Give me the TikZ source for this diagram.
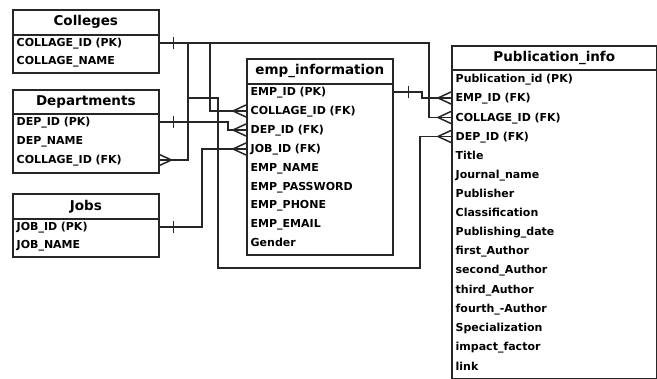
\documentclass[tikz,border=0pt]{standalone}
\usepackage{fontspec}
\setmainfont{DejaVu Sans}
\begin{document}
\begin{tikzpicture}[x=1pt,y=-1pt,
  box/.style={draw=black!85, line width=1.6pt, inner sep=0pt, anchor=north west},
  hdr/.style={font=\fontsize{13.5}{15}\selectfont\bfseries},
  row/.style={anchor=west, inner xsep=4.5pt, inner ysep=0pt, text width=#1, align=left,
              text height=8pt, text depth=0pt,
              font=\fontsize{11}{13}\selectfont\bfseries},
  conn/.style={draw=black!85, line width=1.5pt},
  crowin/.pic={\draw[conn] (-13,0) -- (0,-6) (-13,0) -- (0,6);},
  crowout/.pic={\draw[conn] (13,0) -- (0,-6) (13,0) -- (0,6);},
  tick/.pic={\draw[conn] (0,-6) -- (0,6);}
]
\useasboundingbox (0,0) rectangle (657,379);

% ---------- Colleges ----------
\node[box, minimum width=146, minimum height=25, hdr] (colH) at (12,9) {Colleges};
\node[box, minimum width=146, minimum height=38] (colB) at (12,34) {};
\node[row=137] (col1) at (12,43) {COLLAGE\_ID (PK)};
\node[row=137] (col2) at (12,61) {COLLAGE\_NAME};

% ---------- Departments ----------
\node[box, minimum width=146, minimum height=24, hdr] (depH) at (12,89) {Departments};
\node[box, minimum width=146, minimum height=59] (depB) at (12,113) {};
\node[row=137] (dep1) at (12,122) {DEP\_ID (PK)};
\node[row=137] (dep2) at (12,141) {DEP\_NAME};
\node[row=137] (dep3) at (12,160) {COLLAGE\_ID (FK)};

% ---------- Jobs ----------
\node[box, minimum width=146, minimum height=25, hdr] (jobH) at (12,193) {Jobs};
\node[box, minimum width=146, minimum height=38] (jobB) at (12,218) {};
\node[row=137] (job1) at (12,227) {JOB\_ID (PK)};
\node[row=137] (job2) at (12,245) {JOB\_NAME};

% ---------- emp_information ----------
\node[box, minimum width=146, minimum height=25, hdr] (empH) at (246,58) {emp\_information};
\node[box, minimum width=146, minimum height=171] (empB) at (246,83) {};
\node[row=137] (emp1) at (246,92) {EMP\_ID (PK)};
\node[row=137] (emp2) at (246,111) {COLLAGE\_ID (FK)};
\node[row=137] (emp3) at (246,130) {DEP\_ID (FK)};
\node[row=137] (emp4) at (246,149) {JOB\_ID (FK)};
\node[row=137] (emp5) at (246,168) {EMP\_NAME};
\node[row=137] (emp6) at (246,186.5) {EMP\_PASSWORD};
\node[row=137] (emp7) at (246,205) {EMP\_PHONE};
\node[row=137] (emp8) at (246,224) {EMP\_EMAIL};
\node[row=137] (emp9) at (246,243) {Gender};

% ---------- Publication_info ----------
\node[box, minimum width=205, minimum height=24, hdr] (pubH) at (451,45) {Publication\_info};
\node[box, minimum width=205, minimum height=309] (pubB) at (451,69) {};
\node[row=196] (pub1) at (451,79) {Publication\_id (PK)};
\node[row=196] (pub2) at (451,98) {EMP\_ID (FK)};
\node[row=196] (pub3) at (451,117.5) {COLLAGE\_ID (FK)};
\node[row=196] (pub4) at (451,136.5) {DEP\_ID (FK)};
\node[row=196] (pub5) at (451,155.5) {Title};
\node[row=196] (pub6) at (451,174.5) {Journal\_name};
\node[row=196] (pub7) at (451,193.5) {Publisher};
\node[row=196] (pub8) at (451,212.5) {Classification};
\node[row=196] (pub9) at (451,232) {Publishing\_date};
\node[row=196] (pub10) at (451,251) {first\_Author};
\node[row=196] (pub11) at (451,270) {second\_Author};
\node[row=196] (pub12) at (451,289.5) {third\_Author};
\node[row=196] (pub13) at (451,308.5) {fourth\_-Author};
\node[row=196] (pub14) at (451,328) {Specialization};
\node[row=196] (pub15) at (451,347) {impact\_factor};
\node[row=196] (pub16) at (451,366.5) {link};

% ---------- routing coordinates ----------
\coordinate (xA) at (429,0);
\coordinate (xB) at (188,0);
\coordinate (xC) at (210,0);
\coordinate (xD) at (218,0);
\coordinate (xD2) at (420,0);
\coordinate (yD) at (0,268);
\coordinate (yD0) at (0,98);
\coordinate (xE) at (228,0);
\coordinate (xF) at (202,0);
\coordinate (xG) at (422,0);

% Colleges -> Publication_info COLLAGE_ID
\draw[conn] (col1.east) -| (pub3.west -| xA) -- (pub3.west);
\pic at ([xshift=15pt]col1.east) {tick};
\pic at (pub3.west) {crowin};
% Colleges -> Departments COLLAGE_ID
\draw[conn] (col1.east -| xB) |- (dep3.east);
\pic at (dep3.east) {crowout};
% Colleges -> emp COLLAGE_ID
\draw[conn] (col1.east -| xC) |- (emp2.west);
\pic at (emp2.west) {crowin};
% branch -> Publication_info DEP_ID
\draw[conn] (xB |- yD0) -| (xD |- yD) -| (xD2 |- pub4.west) -- (pub4.west);
\pic at (pub4.west) {crowin};
% Departments -> emp DEP_ID
\draw[conn] (dep1.east) -| (xE |- emp3.west) -- (emp3.west);
\pic at ([xshift=15pt]dep1.east) {tick};
\pic at (emp3.west) {crowin};
% Jobs -> emp JOB_ID
\draw[conn] (job1.east) -| (xF |- emp4.west) -- (emp4.west);
\pic at ([xshift=15pt]job1.east) {tick};
\pic at (emp4.west) {crowin};
% emp -> Publication_info EMP_ID
\draw[conn] (emp1.east) -| (xG |- pub2.west) -- (pub2.west);
\pic at ([xshift=16pt]emp1.east) {tick};
\pic at (pub2.west) {crowin};
\end{tikzpicture}
\end{document}
